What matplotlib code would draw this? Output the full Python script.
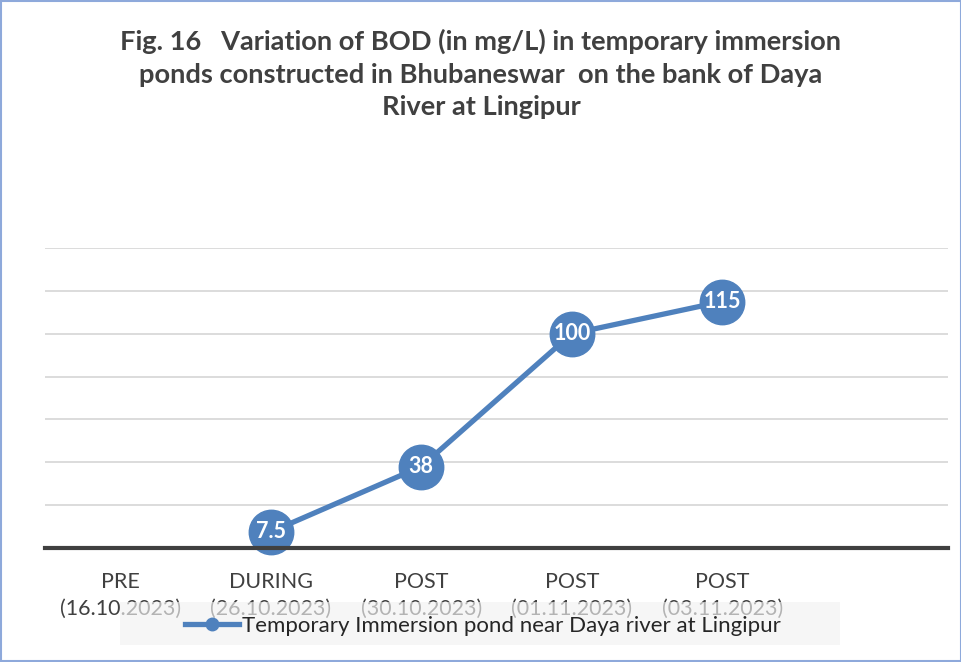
import numpy as np
import matplotlib
matplotlib.use("Agg")
import matplotlib.pyplot as plt
from matplotlib.patches import Rectangle
from matplotlib.lines import Line2D

categories = ["PRE\n(16.10.2023)", "DURING\n(26.10.2023)", "POST\n(30.10.2023)",
              "POST\n(01.11.2023)", "POST\n(03.11.2023)", ""]
values = [np.nan, 7.5, 38, 100, 115, np.nan]
labels = ["", "7.5", "38", "100", "115", ""]
series_name = "Temporary Immersion pond near Daya river at Lingipur"
title = ("Fig. 16   Variation of BOD (in mg/L) in temporary immersion\n"
         "ponds constructed in Bhubaneswar  on the bank of Daya\n"
         "River at Lingipur")

plt.rcParams['font.family'] = ['Lato', 'DejaVu Sans']
blue = '#4F81BD'

fig = plt.figure(figsize=(9.62, 6.62), dpi=100)
ax = fig.add_axes([45/962, 114/662, 903/962, 300/662])
x = np.arange(len(categories))
ax.plot(x, values, color=blue, lw=3.8, marker='o', ms=32, mfc=blue, mec=blue,
        clip_on=False, zorder=3)
for xi, v, lab in zip(x, values, labels):
    if lab:
        ax.text(xi, v, lab, ha='center', va='center', color='white',
                fontsize=15.5, fontweight='bold', zorder=4, clip_on=False)

ax.set_xlim(-0.5, len(categories) - 0.5)
ax.set_ylim(0, 140)
ax.set_yticks(np.arange(20, 141, 20))
ax.yaxis.grid(True, color='#D9D9D9', lw=1.3)
ax.set_axisbelow(True)
ax.tick_params(axis='y', left=False, labelleft=False)
ax.set_xticks(x)
ax.set_xticklabels(categories, fontsize=15.5, color='#404040', linespacing=1.45)
ax.tick_params(axis='x', length=0, pad=17)
for s in ax.spines.values():
    s.set_visible(False)
ax.axhline(0, color='#404040', lw=3, zorder=5, clip_on=False)

fig.suptitle(title, fontsize=19.6, fontweight='bold', color='#404040',
             y=1 - 29/662, va='top', linespacing=1.42)

# legend box
fig.add_artist(Rectangle((120/962, 17/662), 720/962, 43/662,
                         transform=fig.transFigure, facecolor='#F2F2F2',
                         alpha=0.65, edgecolor='none', zorder=10))
h = Line2D([], [], color=blue, lw=3.8, marker='o', ms=9, mfc=blue, mec=blue)
leg = fig.legend([h], [series_name], loc='center', bbox_to_anchor=(483/962, 1 - 626/662),
                 frameon=False, fontsize=16, handlelength=2.4, handletextpad=0.15,
                 labelcolor='#262626')
leg.set_zorder(11)

# outer border
fig.add_artist(Rectangle((0.001, 0.001), 0.998, 0.998, transform=fig.transFigure,
                         facecolor='none', edgecolor='#8EA9DB', lw=1.5, zorder=20))

fig.savefig('out.png', dpi=100)
